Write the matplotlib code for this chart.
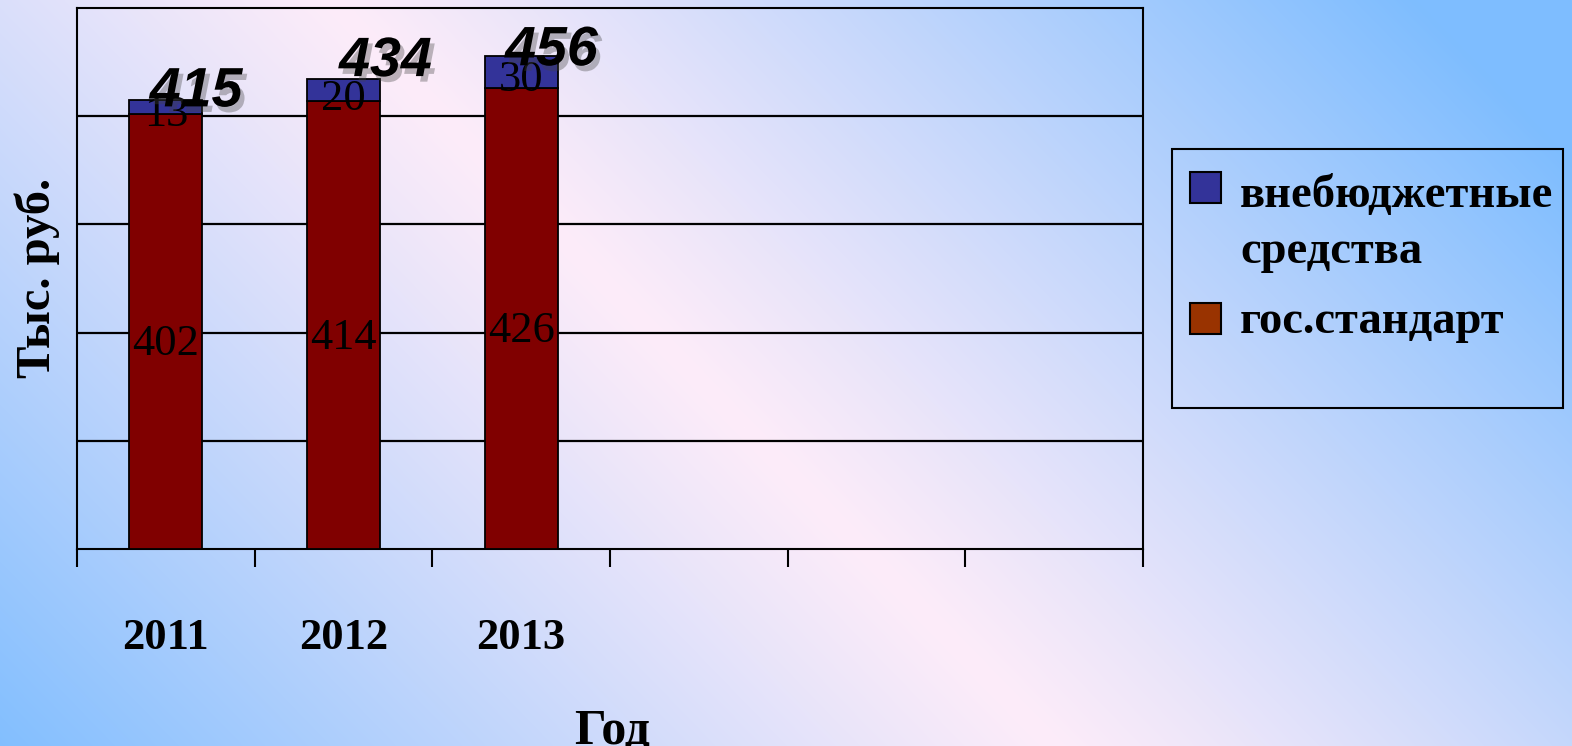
import numpy as np
import matplotlib
matplotlib.use("Agg")
import matplotlib.pyplot as plt
import matplotlib.patheffects as pe
from matplotlib.patches import Rectangle

# ---- data ----
years = ["2011", "2012", "2013"]
n_slots = 6
gos_standard = [402, 414, 426]
vnebudget = [13, 20, 30]
series_names = ["внебюджетные\nсредства", "гос.стандарт"]
totals = [a + b for a, b in zip(gos_standard, vnebudget)]

# ---- style ----
W, H, DPI = 1572, 746, 100
bar_red = "#800000"
bar_blue = "#333399"
legend_colors = ["#333399", "#993300"]
serif = ["Liberation Serif", "DejaVu Serif"]
sans = ["Liberation Sans", "DejaVu Sans"]

fig = plt.figure(figsize=(W / DPI, H / DPI), dpi=DPI)

# background gradient (diagonal blue - pink - blue)
bg = fig.add_axes([0, 0, 1, 1], zorder=-10)
X, Y = np.meshgrid(np.arange(W), np.arange(H))
s = 0.718 * X - 0.696 * Y
d = np.clip(np.abs(s - 237) / 780.0, 0, 1)
f = d ** 1.1
pink = np.array([253, 236, 249]) / 255
blue = np.array([126, 189, 255]) / 255
img = pink[None, None, :] * (1 - f[..., None]) + blue[None, None, :] * f[..., None]
bg.imshow(img, aspect="auto", extent=[0, W, H, 0], interpolation="bilinear")
bg.set_axis_off()

# main axes
L, R, T, B = 77, 1143, 8, 549
ax = fig.add_axes([L / W, (H - B) / H, (R - L) / W, (B - T) / H])
ax.set_facecolor("none")
x = np.arange(len(years))
width = 0.41
c1 = ax.bar(x, gos_standard, width, color=bar_red, edgecolor="black", linewidth=1.3, zorder=3)
c2 = ax.bar(x, vnebudget, width, bottom=gos_standard, color=bar_blue, edgecolor="black",
            linewidth=1.3, zorder=3)

ax.set_xlim(-0.5, n_slots - 0.5)
ax.set_ylim(0, 500)
ax.set_yticks([100, 200, 300, 400])
ax.yaxis.grid(True, color="black", linewidth=1.6, zorder=1)
ax.set_axisbelow(True)
ax.tick_params(axis="y", length=0, labelleft=False)
for sp in ax.spines.values():
    sp.set_color("black")
    sp.set_linewidth(1.5)

ax.set_xticks(np.arange(n_slots + 1) - 0.5)
ax.set_xticklabels([])
ax.tick_params(axis="x", which="major", length=13, width=1.5, color="black", direction="out")
ax.set_xticks(x, years, minor=True)
ax.tick_params(axis="x", which="minor", length=0, pad=50)
for lbl in ax.get_xticklabels(minor=True):
    lbl.set_fontfamily(serif)
    lbl.set_fontsize(32)
    lbl.set_fontweight("bold")

# inner labels (centred in each segment, nudged down slightly as in the original)
for xi, base, top in zip(x, gos_standard, vnebudget):
    ax.annotate(str(base), xy=(xi, base / 2), xytext=(0, -9), textcoords="offset points",
                ha="center", va="center", fontsize=32, family=serif, color="black", zorder=5)
    ax.annotate(str(top), xy=(xi, base + top / 2), xytext=(0, -6), textcoords="offset points",
                ha="center", va="center", fontsize=32, family=serif, color="black", zorder=5)

# totals with shadow
total_shift = [(0.17, 7), (0.236, 16), (0.17, 4)]
for xi, tot, (dx, dy) in zip(x, totals, total_shift):
    ax.text(xi + dx, tot + dy, str(tot), ha="center", va="center", fontsize=40,
            family=sans, fontweight="bold", fontstyle="italic", color="black", zorder=6,
            path_effects=[pe.withSimplePatchShadow(offset=(3, -4), shadow_rgbFace="#444444", alpha=0.35)])

# axis labels
fig.text(37 / W, (H - 278) / H, "Тыс. руб.", rotation=90, ha="center", va="center",
         fontsize=35, fontweight="bold", family=serif)
fig.text(612 / W, (H - 744) / H, "Год", ha="center", va="baseline",
         fontsize=36, fontweight="bold", family=serif)

# legend
fig.patches.append(Rectangle((1172 / W, (H - 408) / H), (1563 - 1172) / W, (408 - 149) / H,
                             transform=fig.transFigure, fill=False, edgecolor="black", linewidth=1.5))
sq = 31
sq_tops = [172, 303]
first_baselines = [207, 333]
line_step = 56
for name, col, top, base in zip(series_names, legend_colors, sq_tops, first_baselines):
    fig.patches.append(Rectangle((1190 / W, (H - top - sq) / H), sq / W, sq / H,
                                 transform=fig.transFigure, facecolor=col, edgecolor="black",
                                 linewidth=1.5))
    for k, line in enumerate(name.split("\n")):
        fig.text(1240 / W, (H - base - k * line_step) / H, line, ha="left", va="baseline",
                 fontsize=33.5, fontweight="bold", family=serif)

fig.savefig("out.png", dpi=DPI)
